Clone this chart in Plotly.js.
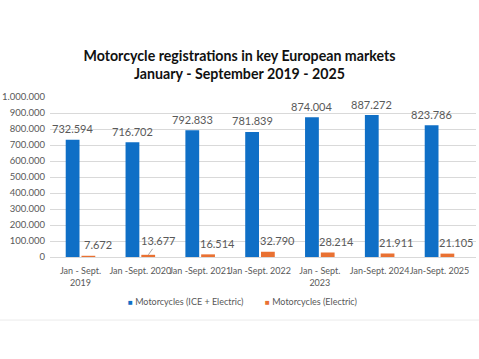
<!DOCTYPE html>
<html><head><meta charset="utf-8">
<script src="https://cdn.plot.ly/plotly-3.0.1.min.js"></script>
<style>html,body{margin:0;padding:0;background:#fff}#c{width:479px;height:359px}</style>
</head><body><div id="c"></div>
<script>
const categories = ["Jan - Sept.<br>2019", "Jan -Sept. 2020", "Jan -Sept. 2021", "Jan -Sept. 2022", "Jan - Sept.<br>2023", "Jan-Sept. 2024", "Jan-Sept. 2025"];
const totalValues = [732594, 716702, 792833, 781839, 874004, 887272, 823786];
const electricValues = [7672, 13677, 16514, 32790, 28214, 21911, 21105];
const seriesNames = ["Motorcycles (ICE + Electric)", "Motorcycles (Electric)"];
const colors = ["#0F6FC6", "#E97132"];

const FONT = "Lato, 'Open Sans', sans-serif";
function dotted(v) { return String(v).replace(/\B(?=(\d{3})+(?!\d))/g, "."); }

const traces = [
  {type: "bar", x: categories, y: totalValues, name: seriesNames[0], marker: {color: colors[0]}, showlegend: false},
  {type: "bar", x: categories, y: electricValues, name: seriesNames[1], marker: {color: colors[1]}, showlegend: false}
];

const labelFont = {family: FONT, size: 11, color: "#595959"};
const annotations = [];
categories.forEach((c, i) => {
  annotations.push({x: c, y: totalValues[i], xref: "x", yref: "y", text: dotted(totalValues[i]),
    showarrow: false, xshift: -8, yshift: 11, yanchor: "middle", font: labelFont});
  if (i === 1) {
    annotations.push({x: c, y: electricValues[i], xref: "x", yref: "y", text: dotted(electricValues[i]),
      showarrow: true, arrowhead: 0, arrowwidth: 1, arrowcolor: "#a6a6a6", ax: 10, ay: -14,
      xshift: 8, standoff: 0, font: labelFont});
  } else {
    annotations.push({x: c, y: electricValues[i], xref: "x", yref: "y", text: dotted(electricValues[i]),
      showarrow: false, xshift: 17, yshift: 11, yanchor: "middle", font: labelFont});
  }
});
// legend as text entries
annotations.push({xref: "paper", yref: "paper", x: 0.178, y: -0.28, xanchor: "left", yanchor: "middle", showarrow: false,
  text: '<span style="color:' + colors[0] + ';font-size:8px">■</span> ' + seriesNames[0], font: {family: FONT, size: 9, color: "#595959"}});
annotations.push({xref: "paper", yref: "paper", x: 0.5, y: -0.28, xanchor: "left", yanchor: "middle", showarrow: false,
  text: '<span style="color:' + colors[1] + ';font-size:8px">■</span> ' + seriesNames[1], font: {family: FONT, size: 9, color: "#595959"}});

const layout = {
  width: 479, height: 359,
  paper_bgcolor: "#fff", plot_bgcolor: "#fff",
  separators: ",.",
  font: {family: FONT, color: "#595959"},
  title: {text: "<b>Motorcycle registrations in key European markets<br>January - September 2019 - 2025</b>",
          font: {family: FONT, size: 14.2, color: "#111"},
          x: 0.5, xanchor: "center", y: 0.83, yanchor: "middle"},
  margin: {l: 50, r: 3, t: 97, b: 102},
  barmode: "group", bargap: 0.473, bargroupgap: 0.125,
  xaxis: {type: "category", tickangle: 0, tickfont: {size: 9, color: "#595959"}, showline: true, linecolor: "#d9d9d9", ticks: "", ticklabelstandoff: 5},
  yaxis: {range: [0, 1000000], dtick: 100000, tickformat: ",.0f", tickfont: {size: 9.5, color: "#595959"},
          gridcolor: "#d9d9d9", zeroline: false, showline: false, ticks: "", ticklabelstandoff: 4},
  showlegend: false,
  annotations: annotations,
  shapes: [{type: "line", xref: "paper", yref: "paper", x0: -0.118, x1: 1.007, y0: -0.394, y1: -0.394,
            line: {color: "#ebebeb", width: 1}}]
};
Plotly.newPlot("c", traces, layout, {displayModeBar: false, staticPlot: true});
</script></body></html>
